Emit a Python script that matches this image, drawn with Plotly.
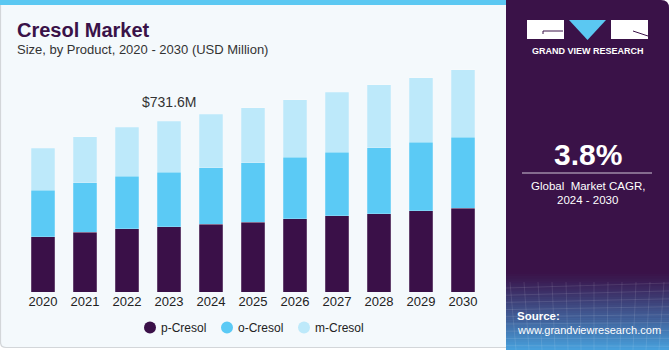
import plotly.graph_objects as go

years = ["2020", "2021", "2022", "2023", "2024", "2025", "2026", "2027", "2028", "2029", "2030"]
p_cresol = [237, 256, 271, 280, 290, 300, 313, 326, 336, 348, 360]
o_cresol = [199, 213, 226, 234, 243, 254, 264, 273, 283, 294, 304]
m_cresol = [180, 197, 209, 217, 229, 236, 246, 257, 269, 277, 289]
series_names = ["p-Cresol", "o-Cresol", "m-Cresol"]
series_colors = ["#3A1048", "#5BCAF5", "#BDE9FA"]
callout_year = "2023"
callout_text = "$731.6M"

W, H = 670, 350
L, R, T, B = 22, 186, 60, 58
PW, PH = W - L - R, H - T - B


def px(x):
    return (x - L) / PW


def py(y):
    return (H - B - y) / PH


fig = go.Figure()
for name, vals, col in zip(series_names, [p_cresol, o_cresol, m_cresol], series_colors):
    fig.add_trace(go.Bar(x=years, y=vals, name=name, marker=dict(color=col, line=dict(color="rgba(255,255,255,0.35)", width=0.6)),
                         showlegend=False, hoverinfo="skip"))

idx = years.index(callout_year)
total = p_cresol[idx] + o_cresol[idx] + m_cresol[idx]
fig.add_annotation(x=idx, y=total, yshift=19, text=callout_text, showarrow=False,
                   font=dict(size=14, color="#333333", family="Liberation Sans"), xref="x", yref="y")

shapes = []
# left panel background with rounded bottom-left
x0, x1, y0, y1 = px(0.5), px(507), py(0), py(347.5)
shapes.append(dict(type="path", xref="paper", yref="paper", layer="below",
                   path=f"M {x0},{y0} L {x1},{y0} L {x1},{y1} L {px(6)},{y1} Q {x0},{y1} {x0},{py(342)} Z",
                   fillcolor="#F4F9FC", line=dict(color="#D3D6D9", width=1.2)))
# top stripe
shapes.append(dict(type="rect", xref="paper", yref="paper", layer="below",
                   x0=px(0), x1=px(506), y0=py(0), y1=py(5), fillcolor="#5BC8F2", line=dict(width=0)))
# right panel
rx0, rx1 = px(506), px(669)
shapes.append(dict(type="path", xref="paper", yref="paper", layer="below",
                   path=f"M {rx0},{py(0)} L {px(661)},{py(0)} Q {rx1},{py(0)} {rx1},{py(8)} L {rx1},{py(350)} L {rx0},{py(350)} Z",
                   fillcolor="#3A1248", line=dict(width=0)))
# gradient at bottom of right panel
c0 = (58, 18, 72)
c1 = (72, 162, 222)
n = 38
ys, ye = 272, 350
for i in range(n):
    t = (i + 0.5) / n
    t2 = t ** 1.15
    c = tuple(int(c0[k] + (c1[k] - c0[k]) * t2) for k in range(3))
    ya = ys + (ye - ys) * i / n
    yb = ys + (ye - ys) * (i + 1) / n + 0.6
    shapes.append(dict(type="rect", xref="paper", yref="paper", layer="below",
                       x0=rx0, x1=rx1, y0=py(ya), y1=py(yb), fillcolor=f"rgb{c}", line=dict(width=0)))
# faint mesh lines
for k in range(9):
    yy = 285 + k * 7.5
    shapes.append(dict(type="line", xref="paper", yref="paper", layer="below",
                       x0=rx0, x1=rx1, y0=py(yy + 3 - k * 0.3), y1=py(yy - 2 + k * 0.4),
                       line=dict(color="rgba(255,255,255,0.10)", width=1)))
for k in range(12):
    xx = 510 + k * 14
    shapes.append(dict(type="line", xref="paper", yref="paper", layer="below",
                       x0=px(xx), x1=px(xx + 6 - k), y0=py(282), y1=py(350),
                       line=dict(color="rgba(255,255,255,0.10)", width=1)))
# logo
shapes.append(dict(type="rect", xref="paper", yref="paper", layer="below",
                   x0=px(527), x1=px(564), y0=py(20), y1=py(39), fillcolor="white", line=dict(width=0)))
shapes.append(dict(type="rect", xref="paper", yref="paper", layer="below",
                   x0=px(611), x1=px(648), y0=py(20), y1=py(39), fillcolor="white", line=dict(width=0)))
shapes.append(dict(type="path", xref="paper", yref="paper", layer="below",
                   path=f"M {px(569)},{py(20)} L {px(606)},{py(20)} L {px(587.5)},{py(40)} Z",
                   fillcolor="#5BC8F2", line=dict(width=0)))
shapes.append(dict(type="path", xref="paper", yref="paper", layer="below",
                   path=f"M {px(543)},{py(34)} L {px(543)},{py(31)} L {px(563)},{py(31)}",
                   line=dict(color="#3A1248", width=1)))
shapes.append(dict(type="line", xref="paper", yref="paper", layer="below",
                   x0=px(633), x1=px(648), y0=py(31), y1=py(36), line=dict(color="#3A1248", width=1)))
# separator line under CAGR
shapes.append(dict(type="line", xref="paper", yref="paper", layer="below",
                   x0=px(522), x1=px(652), y0=py(173), y1=py(173), line=dict(color="#CFC6D6", width=1)))

# custom legend (circle markers)
legend_x = [150, 227, 304]
legend_y = 327.5
for lx, col in zip(legend_x, series_colors):
    shapes.append(dict(type="circle", xref="paper", yref="paper", layer="above",
                       x0=px(lx - 6), x1=px(lx + 6), y0=py(legend_y - 6), y1=py(legend_y + 6),
                       fillcolor=col, line=dict(width=0)))

fig.update_layout(shapes=shapes)

def note(x, y, text, size, color, bold=False, xanchor="left", family="Liberation Sans"):
    if bold:
        text = f"<b>{text}</b>"
    fig.add_annotation(x=px(x), y=py(y), xref="paper", yref="paper", text=text, showarrow=False,
                       xanchor=xanchor, yanchor="middle", font=dict(size=size, color=color, family=family))

for lx, name in zip(legend_x, series_names):
    note(lx + 9, legend_y, name, 12, "#222222")

note(15, 30, "Cresol Market", 20, "#3A1248", bold=True)
note(15, 49, "Size, by Product, 2020 - 2030 (USD Million)", 13, "#333333")
note(587.5, 51, "GRAND VIEW RESEARCH", 9, "#FFFFFF", bold=True, xanchor="center")
note(587.5, 154, "3.8%", 30, "#FFFFFF", bold=True, xanchor="center")
note(587.5, 186, "Global  Market CAGR,", 11.5, "#FFFFFF", xanchor="center")
note(587.5, 200, "2024 - 2030", 11.5, "#FFFFFF", xanchor="center")
note(515, 316, "Source:", 11.5, "#FFFFFF", bold=True)
note(515, 330, "www.grandviewresearch.com", 11, "#FFFFFF")

fig.update_layout(
    width=W, height=H,
    margin=dict(l=L, r=R, t=T, b=B, autoexpand=False),
    paper_bgcolor="#FFFFFF", plot_bgcolor="rgba(0,0,0,0)",
    barmode="stack", bargap=0.45,
    font=dict(family="Liberation Sans", color="#222222"),
    xaxis=dict(type="category", categoryorder="array", categoryarray=years, range=[-0.5, len(years) - 0.5],
               autorange=False, showgrid=False, zeroline=False,
               showline=False, ticks="", tickfont=dict(size=13, color="#222222"), fixedrange=True),
    yaxis=dict(range=[0, 994.4], autorange=False, visible=False, fixedrange=True),
    showlegend=False,
)
fig.write_html("out.html", config={"displayModeBar": False})
